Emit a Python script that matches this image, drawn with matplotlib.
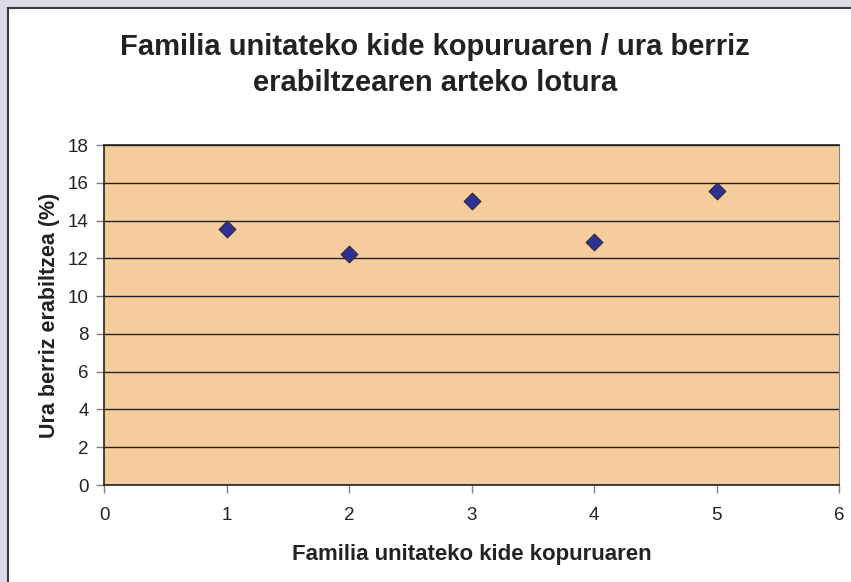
import matplotlib
matplotlib.use('Agg')
import matplotlib.pyplot as plt
from matplotlib.patches import Rectangle

plt.rcParams['font.family'] = ['Liberation Sans', 'DejaVu Sans']

# datuak
members = [1, 2, 3, 4, 5]
reuse_pct = [13.55, 12.23, 15.03, 12.86, 15.56]

fig = plt.figure(figsize=(8.51, 5.82), dpi=100)
fig.patch.set_facecolor('#DCDCE9')
# barneko panel zuria ertzarekin
fig.patches.append(Rectangle((8 / 851, -0.01), 1.0, 1 - 8 / 582 + 0.01,
                             transform=fig.transFigure, facecolor='white',
                             edgecolor='#3a3a3a', linewidth=1.5, zorder=-5))

ax = fig.add_axes([104 / 851, 1 - 485 / 582, (839 - 104) / 851, (485 - 145) / 582])
ax.set_facecolor('#F6CC9C')
ax.scatter(members, reuse_pct, marker='D', s=75, color='#2E3192',
           edgecolors='#222222', linewidths=0.6, zorder=3)

ax.set_xlim(0, 6)
ax.set_ylim(0, 18)
ax.set_xticks(range(0, 7))
ax.set_yticks(range(0, 19, 2))
ax.yaxis.grid(True, color='#222222', linewidth=1.0)
ax.set_axisbelow(True)
ax.tick_params(axis='both', labelsize=13.5, colors='#222222', length=6, width=1)
ax.tick_params(axis='y', pad=5)
ax.tick_params(axis='x', pad=10)
ax.tick_params(axis='both', color='#808080')
for side in ['left', 'bottom', 'top']:
    ax.spines[side].set_color('#222222')
    ax.spines[side].set_linewidth(1.2)
ax.spines['right'].set_color('#808080')

ax.set_xlabel('Familia unitateko kide kopuruaren', fontsize=16, fontweight='bold',
              color='#222222', labelpad=14)
ax.set_ylabel('Ura berriz erabiltzea (%)', fontsize=15.5, fontweight='bold',
              color='#222222', labelpad=6)

fig.text(435 / 851, 1 - 65 / 582,
         'Familia unitateko kide kopuruaren / ura berriz\nerabiltzearen arteko lotura',
         ha='center', va='center', fontsize=21, fontweight='bold',
         color='#222222', linespacing=1.38)

plt.savefig('out.png', dpi=100, facecolor=fig.get_facecolor())
plt.close()
